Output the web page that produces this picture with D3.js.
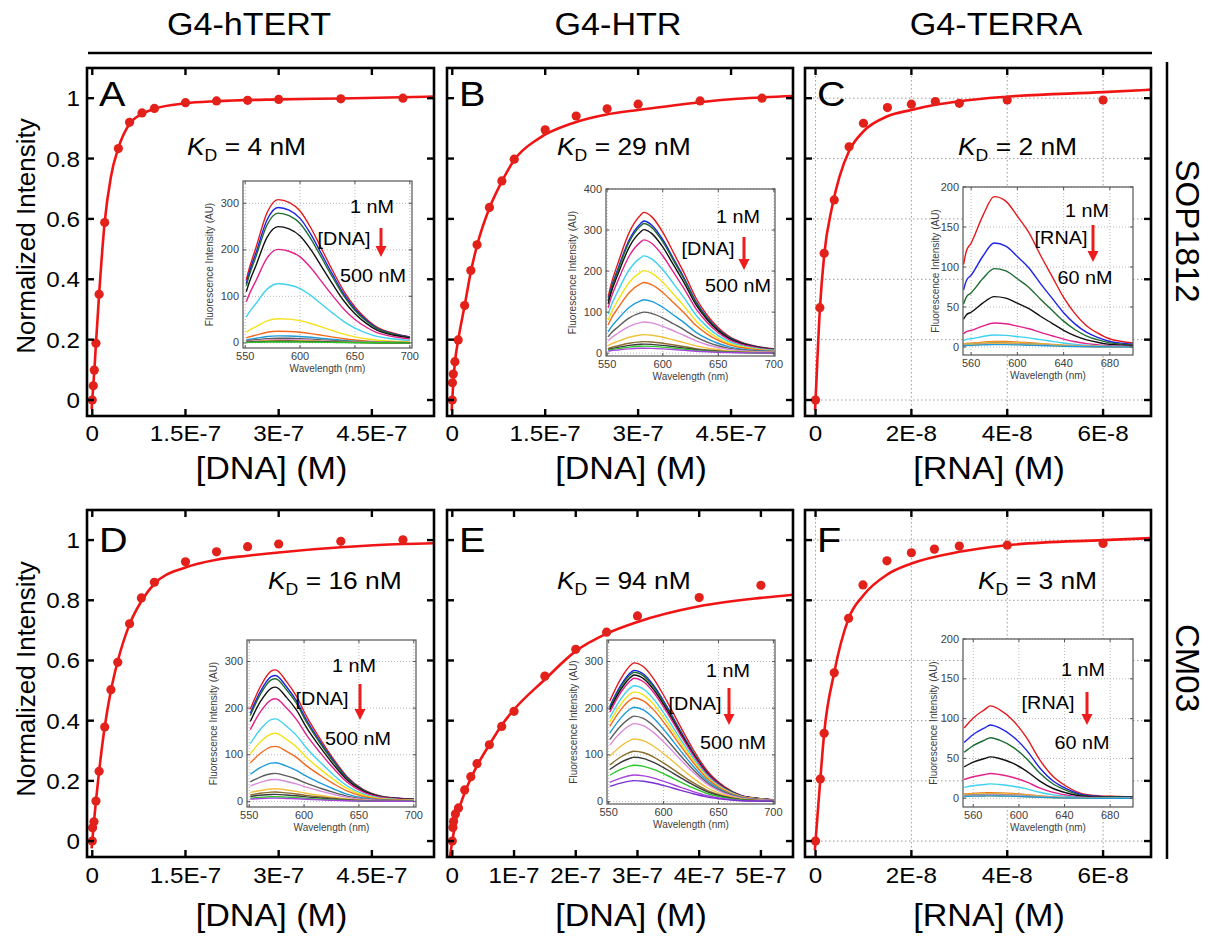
<!DOCTYPE html>
<html>
<head>
<meta charset="utf-8">
<script src="https://cdn.jsdelivr.net/npm/d3@7"></script>
<style>
  body { margin: 0; background: #fff; }
</style>
</head>
<body>
<script>
// ---------------- text content ----------------
const columnTitles = ["G4-hTERT", "G4-HTR", "G4-TERRA"];
const rowTitles = ["SOP1812", "CM03"];
const panelLetters = ["A", "B", "C", "D", "E", "F"];
const kdValues = ["4 nM", "29 nM", "2 nM", "16 nM", "94 nM", "3 nM"];
const xAxisTitles = ["[DNA] (M)", "[DNA] (M)", "[RNA] (M)", "[DNA] (M)", "[DNA] (M)", "[RNA] (M)"];
const yAxisTitle = "Normalized Intensity";
const insetTopText = ["1 nM", "1 nM", "1 nM", "1 nM", "1 nM", "1 nM"];
const insetMidText = ["[DNA]", "[DNA]", "[RNA]", "[DNA]", "[DNA]", "[RNA]"];
const insetBotText = ["500 nM", "500 nM", "60 nM", "500 nM", "500 nM", "60 nM"];
const insetYTitle = "Fluorescence Intensity (AU)";
const insetXTitle = "Wavelength (nm)";

// ---------------- main axes ticks (concentration in nM) ----------------
const yTicks = [0, 0.2, 0.4, 0.6, 0.8, 1];
const yTickLabels = ["0", "0.2", "0.4", "0.6", "0.8", "1"];
const dnaTicks = [0, 150, 300, 450];
const dnaTickLabels = ["0", "1.5E-7", "3E-7", "4.5E-7"];
const dnaTicksE = [0, 100, 200, 300, 400, 500];
const dnaTickLabelsE = ["0", "1E-7", "2E-7", "3E-7", "4E-7", "5E-7"];
const rnaTicks = [0, 20, 40, 60];
const rnaTickLabels = ["0", "2E-8", "4E-8", "6E-8"];

// ---------------- titration points (nM, normalized intensity) ----------------
const concA = [0, 1.6, 3.2, 5.9, 11, 20, 42, 60, 80, 100, 150, 200, 250, 300, 400, 500];
const intA  = [0, 0.047, 0.099, 0.188, 0.35, 0.588, 0.833, 0.92, 0.951, 0.966, 0.985, 0.991, 0.993, 0.996, 0.998, 1.0];
const concB = [0, 0.3, 1.6, 4.3, 9.6, 20, 30, 40, 60, 80, 100, 150, 200, 250, 300, 400, 500];
const intB  = [0, 0.057, 0.086, 0.127, 0.199, 0.313, 0.429, 0.514, 0.638, 0.726, 0.798, 0.895, 0.941, 0.965, 0.98, 0.991, 1.0];
const concC = [0, 0.9, 1.8, 3.9, 7, 10, 15, 20, 25, 30, 40, 60];
const intC  = [0, 0.306, 0.486, 0.663, 0.839, 0.917, 0.969, 0.98, 0.989, 0.983, 0.994, 0.994];
const concD = [0, 0.5, 2.7, 5.9, 11, 20, 30, 41, 60, 79, 100, 150, 200, 250, 300, 400, 500];
const intD  = [0, 0.044, 0.064, 0.133, 0.232, 0.379, 0.503, 0.594, 0.722, 0.808, 0.86, 0.928, 0.961, 0.978, 0.987, 0.996, 1.001];
const concE = [0, 1, 2, 5, 10, 20, 30, 40, 60, 80, 100, 150, 200, 250, 300, 400, 500];
const intE  = [0, 0.045, 0.065, 0.09, 0.11, 0.17, 0.214, 0.257, 0.32, 0.381, 0.431, 0.548, 0.637, 0.694, 0.748, 0.809, 0.85];
const concF = [0, 1.0, 1.8, 3.9, 6.9, 9.9, 14.9, 20, 24.8, 30, 40, 60];
const intF  = [0, 0.206, 0.358, 0.559, 0.74, 0.851, 0.931, 0.958, 0.97, 0.98, 0.983, 0.989];

// ---------------- fitted binding curves (nM, normalized intensity) ----------------
const fitConcA = [-1, 0, 2, 4, 6, 11, 20, 30, 42, 60, 80, 100, 150, 200, 300, 400, 560];
const fitIntA  = [-0.03, 0, 0.06, 0.12, 0.19, 0.35, 0.59, 0.74, 0.835, 0.915, 0.948, 0.965, 0.983, 0.99, 0.996, 0.999, 1.006];
const fitConcB = [-1, 0, 2, 4.3, 9.6, 20, 30, 40, 60, 80, 100, 140, 194, 247, 300, 354, 407, 460, 560];
const fitIntB  = [-0.035, 0, 0.07, 0.125, 0.199, 0.313, 0.425, 0.512, 0.636, 0.724, 0.795, 0.867, 0.917, 0.945, 0.961, 0.975, 0.988, 0.998, 1.008];
const fitConcC = [-0.1, 0, 0.9, 1.8, 3.4, 5, 7, 10, 15, 20, 25, 30, 40, 60, 72];
const fitIntC  = [-0.033, 0, 0.3, 0.48, 0.636, 0.74, 0.825, 0.89, 0.94, 0.961, 0.978, 0.99, 1.005, 1.02, 1.03];
const fitConcD = [-1, 0, 2.7, 5.9, 11, 20, 30, 40, 60, 80, 100, 150, 200, 250, 300, 400, 500, 560];
const fitIntD  = [-0.024, 0, 0.064, 0.133, 0.232, 0.379, 0.5, 0.59, 0.72, 0.8, 0.855, 0.909, 0.935, 0.948, 0.959, 0.976, 0.987, 0.99];
const fitConcE = [-4, 0, 5, 10, 20, 40, 60, 80, 100, 150, 200, 250, 300, 400, 500, 560];
const fitIntE  = [-0.053, 0, 0.06, 0.1, 0.16, 0.25, 0.32, 0.385, 0.437, 0.537, 0.631, 0.689, 0.728, 0.78, 0.808, 0.82];
const fitConcF = [-0.15, 0, 1, 1.8, 3.9, 6.9, 10, 15, 20, 30, 40, 60, 72];
const fitIntF  = [-0.03, 0, 0.206, 0.358, 0.56, 0.74, 0.817, 0.886, 0.922, 0.961, 0.983, 1.0, 1.008];

// ---------------- emission spectra (band profile per panel, peak per titration step) ----------------
const specTicksDNA = [550, 600, 650, 700];
const specTicksRNA = [560, 600, 640, 680];
const specYTicks300 = [0, 100, 200, 300];
const specYTicks400 = [0, 100, 200, 300, 400];
const specYTicks200 = [0, 50, 100, 150, 200];

const wlA = [551, 553, 560, 570, 580, 590, 600, 610, 620, 630, 640, 650, 660, 670, 680, 690, 700];
const shapeA = [0.44, 0.50, 0.67, 0.91, 1.0, 0.98, 0.92, 0.80, 0.65, 0.50, 0.36, 0.25, 0.17, 0.11, 0.078, 0.058, 0.042];
const peaksA = [308, 291, 279, 250, 201, 127, 52, 25, 15, 10, 7, 5, 4, 3, 2];

const wlB = [551, 553, 560, 570, 580, 583, 590, 600, 610, 620, 630, 640, 650, 660, 670, 680, 690, 700];
const shapeB = [0.40, 0.47, 0.645, 0.86, 0.98, 1.0, 0.97, 0.86, 0.71, 0.557, 0.39, 0.27, 0.18, 0.117, 0.08, 0.056, 0.04, 0.03];
const peaksB = [343, 322, 316, 301, 276, 237, 201, 172, 130, 100, 76, 45, 28, 22, 17, 12];

const wlC = [553.5, 556, 560, 570, 580, 590, 600, 610, 620, 630, 640, 650, 660, 670, 680, 690, 700];
const shapeC = [0.55, 0.64, 0.69, 0.87, 1.0, 0.97, 0.87, 0.76, 0.61, 0.47, 0.33, 0.22, 0.14, 0.09, 0.053, 0.037, 0.027];
const peaksC = [188, 130, 98, 63, 30, 15, 7, 6, 5, 4, 4, 3];

const wlD = [551, 560, 570, 574, 584, 593, 602, 615, 627, 639, 654, 670, 685, 700];
const shapeD = [0.70, 0.87, 0.99, 1.0, 0.91, 0.80, 0.65, 0.47, 0.32, 0.19, 0.09, 0.04, 0.025, 0.018];
const peaksD = [282, 270, 263, 245, 220, 177, 146, 118, 83, 60, 47, 27, 20, 15, 10, 7];

const wlE = [551, 561, 571, 573, 582, 591, 603, 615, 627, 639, 655, 670, 685, 700];
const shapeE = [0.725, 0.885, 0.99, 1.0, 0.97, 0.885, 0.725, 0.546, 0.376, 0.23, 0.11, 0.047, 0.025, 0.014];
const peaksE = [297, 281, 277, 271, 264, 248, 235, 222, 202, 183, 167, 134, 108, 95, 78, 57, 45];

const wlF = [552, 560, 570, 575, 583, 595, 607, 618, 630, 642, 656, 671, 685, 700];
const shapeF = [0.76, 0.87, 0.96, 1.0, 0.96, 0.84, 0.65, 0.42, 0.235, 0.127, 0.047, 0.026, 0.02, 0.017];
const peaksF = [116, 92, 76, 52, 31, 18, 7, 6, 5, 4, 3, 3];

const specColorsDNA = ["#e3191c", "#1c22e6", "#1e6b32", "#111111", "#e2208c", "#3fd2ef", "#f2e21a",
  "#f26a1d", "#1d9bd8", "#5c5c5c", "#d98cd9", "#f0c13c", "#8a6c2c", "#3a3a3a", "#2bc52b", "#a643dc", "#7a30d0"];
const specColorsRNA = ["#e3191c", "#1c22e6", "#1e6b32", "#111111", "#e2208c", "#3fd2ef",
  "#f26a1d", "#f2d21a", "#8a8a8a", "#d98cd9", "#f0b43c", "#1d9bd8"];

// ---------------- layout ----------------
const W = 1220, H = 939;
const FONT = "'Liberation Sans', Arial, Helvetica, sans-serif";
const SX = 1.1;                 // horizontal stretch of the typeface
const RED_LINE = "#f01414";
const RED_DOT = "#e3211b";
const colX = [[87, 434], [447, 793], [805, 1151]];
const rowY = [[68, 416], [510, 857]];
const yDomain = [-0.053, 1.1];
const tickLabelBase = [441, 883];
const axisTitleBase = [479, 926];

const panels = [
  { col: 0, row: 0, xDomain: [-8.5, 550], ticks: dnaTicks, tickLabels: dnaTickLabels, grid: false,
    conc: concA, val: intA, fitC: fitConcA, fitV: fitIntA, kd: [187, 155],
    inset: { x: [243, 412], y: [181, 348], xd: [548, 702], yd: [-11, 348], xt: specTicksDNA, yt: specYTicks300,
      wl: wlA, shape: shapeA, peaks: peaksA, colors: specColorsDNA, titleOff: 34,
      top: [372, 206], mid: [344, 238], bot: [373, 275], arrow: [381, 228, 257] } },
  { col: 1, row: 0, xDomain: [-8.5, 550], ticks: dnaTicks, tickLabels: dnaTickLabels, grid: false,
    conc: concB, val: intB, fitC: fitConcB, fitV: fitIntB, kd: [557, 155],
    inset: { x: [606, 775], y: [189, 356], xd: [549, 701], yd: [-7, 400], xt: specTicksDNA, yt: specYTicks400,
      wl: wlB, shape: shapeB, peaks: peaksB, colors: specColorsDNA, titleOff: 34,
      top: [738, 216], mid: [708, 248], bot: [738, 285], arrow: [744, 237, 270] } },
  { col: 2, row: 0, xDomain: [-2.2, 70], ticks: rnaTicks, tickLabels: rnaTickLabels, grid: true,
    conc: concC, val: intC, fitC: fitConcC, fitV: fitIntC, kd: [958, 155],
    inset: { x: [963, 1133], y: [187, 355], xd: [553, 700], yd: [-10, 200], xt: specTicksRNA, yt: specYTicks200,
      wl: wlC, shape: shapeC, peaks: peaksC, colors: specColorsRNA, titleOff: 28,
      top: [1087, 210], mid: [1061, 237], bot: [1085, 277], arrow: [1093, 225, 262] } },
  { col: 0, row: 1, xDomain: [-8.5, 550], ticks: dnaTicks, tickLabels: dnaTickLabels, grid: false,
    conc: concD, val: intD, fitC: fitConcD, fitV: fitIntD, kd: [268, 589],
    inset: { x: [247, 416], y: [640, 807], xd: [548, 702], yd: [-12, 346], xt: specTicksDNA, yt: specYTicks300,
      wl: wlD, shape: shapeD, peaks: peaksD, colors: specColorsDNA, titleOff: 34,
      top: [354, 665], mid: [322, 698], bot: [358, 738], arrow: [360, 684, 720] } },
  { col: 1, row: 1, xDomain: [-8.6, 552], ticks: dnaTicksE, tickLabels: dnaTickLabelsE, grid: false,
    conc: concE, val: intE, fitC: fitConcE, fitV: fitIntE, kd: [557, 589],
    inset: { x: [607, 775], y: [640, 804], xd: [548.5, 701.5], yd: [-5, 346], xt: specTicksDNA, yt: specYTicks300,
      wl: wlE, shape: shapeE, peaks: peaksE, colors: specColorsDNA, titleOff: 34,
      top: [728, 670], mid: [695, 703], bot: [733, 742], arrow: [729, 688, 725] } },
  { col: 2, row: 1, xDomain: [-2.2, 70], ticks: rnaTicks, tickLabels: rnaTickLabels, grid: true,
    conc: concF, val: intF, fitC: fitConcF, fitV: fitIntF, kd: [978, 589],
    inset: { x: [963, 1133], y: [639, 807], xd: [551, 700], yd: [-11, 200], xt: specTicksRNA, yt: specYTicks200,
      wl: wlF, shape: shapeF, peaks: peaksF, colors: specColorsRNA, titleOff: 30,
      top: [1083, 669], mid: [1048, 702], bot: [1082, 742], arrow: [1087, 692, 725] } }
];

const svg = d3.select("body").append("svg")
  .attr("width", W).attr("height", H)
  .style("font-family", FONT);
const defs = svg.append("defs");

// text helper: places a label, optionally rotated, with a horizontal stretch
function label(parent, x, y, s, size, opts = {}) {
  const sx = opts.sx === undefined ? SX : opts.sx;
  const tr = `translate(${x},${y})` + (opts.rotate ? ` rotate(${opts.rotate})` : "") + ` scale(${sx},1)`;
  return parent.append("g").attr("transform", tr)
    .append("text")
    .attr("font-size", size)
    .attr("text-anchor", opts.anchor || "middle")
    .attr("fill", opts.fill || "#000")
    .text(s);
}

// ---------------- headers and row labels ----------------
columnTitles.forEach((t, i) => {
  const cx = [249, 618, 996][i];
  label(svg, cx, 35, t, 31);
});
svg.append("line").attr("x1", 88).attr("x2", 1152).attr("y1", 53).attr("y2", 53)
  .attr("stroke", "#000").attr("stroke-width", 2.5);
svg.append("line").attr("x1", 1167).attr("x2", 1167).attr("y1", 62).attr("y2", 859)
  .attr("stroke", "#000").attr("stroke-width", 2.5);
rowTitles.forEach((t, i) => {
  label(svg, 1176, [231, 668][i], t, 33, { rotate: 90, sx: 1 });
});
[236, 679].forEach(cy => label(svg, 35, cy, yAxisTitle, 26, { rotate: -90, sx: 1 }));

// ---------------- panels ----------------
panels.forEach((p, i) => {
  const [x0, x1] = colX[p.col];
  const [y0, y1] = rowY[p.row];
  const x = d3.scaleLinear().domain(p.xDomain).range([x0, x1]);
  const y = d3.scaleLinear().domain(yDomain).range([y1, y0]);
  const g = svg.append("g");

  const clipId = "clip-main-" + i;
  defs.append("clipPath").attr("id", clipId)
    .append("rect").attr("x", x0).attr("y", y0).attr("width", x1 - x0).attr("height", y1 - y0);

  // dotted grid
  if (p.grid) {
    const gg = g.append("g").attr("stroke", "#9b9b9b").attr("stroke-width", 1).attr("stroke-dasharray", "1.5,2.5");
    p.ticks.forEach(t => gg.append("line").attr("x1", x(t)).attr("x2", x(t)).attr("y1", y0).attr("y2", y1));
    yTicks.forEach(t => gg.append("line").attr("x1", x0).attr("x2", x1).attr("y1", y(t)).attr("y2", y(t)));
  }

  // fitted curve and titration points
  const plot = g.append("g").attr("clip-path", `url(#${clipId})`);
  const fitPts = p.fitC.map((c, k) => [c, p.fitV[k]]);
  plot.append("path")
    .attr("d", d3.line().x(d => x(d[0])).y(d => y(d[1])).curve(d3.curveMonotoneX)(fitPts))
    .attr("fill", "none").attr("stroke", RED_LINE).attr("stroke-width", 2.6);
  plot.selectAll("circle.pt").data(p.conc.map((c, k) => [c, p.val[k]])).join("circle")
    .attr("class", "pt")
    .attr("cx", d => x(d[0])).attr("cy", d => y(d[1])).attr("r", 4.6)
    .attr("fill", RED_DOT);

  // inset spectra
  drawInset(g, p.inset, i);

  // frame and ticks
  g.append("rect").attr("x", x0).attr("y", y0).attr("width", x1 - x0).attr("height", y1 - y0)
    .attr("fill", "none").attr("stroke", "#000").attr("stroke-width", 2.6);
  const tk = g.append("g").attr("stroke", "#000").attr("stroke-width", 2.4);
  p.ticks.forEach(t => {
    const xx = x(t);
    tk.append("line").attr("x1", xx).attr("x2", xx).attr("y1", y1).attr("y2", y1 - 7);
    tk.append("line").attr("x1", xx).attr("x2", xx).attr("y1", y0).attr("y2", y0 + 7);
  });
  yTicks.forEach(t => {
    const yy = y(t);
    tk.append("line").attr("x1", x0).attr("x2", x0 + 7).attr("y1", yy).attr("y2", yy);
    tk.append("line").attr("x1", x1).attr("x2", x1 - 7).attr("y1", yy).attr("y2", yy);
  });

  // tick labels
  p.ticks.forEach((t, k) => label(g, x(t), tickLabelBase[p.row], p.tickLabels[k], 22));
  if (p.col === 0) {
    yTicks.forEach((t, k) => label(g, x0 - 7, y(t) + 8, yTickLabels[k], 22, { anchor: "end" }));
  }
  label(g, (x0 + x1) / 2 + 11, axisTitleBase[p.row], xAxisTitles[i], 31);

  // panel letter
  label(g, x0 + 12, y0 + (p.row === 0 ? 38 : 42), panelLetters[i], 36, { anchor: "start" });

  // dissociation constant
  const kt = label(g, p.kd[0], p.kd[1], "", 24, { anchor: "start" });
  kt.append("tspan").attr("font-style", "italic").text("K");
  kt.append("tspan").attr("font-size", 16).attr("dy", 6).text("D");
  kt.append("tspan").attr("dy", -6).text(" = " + kdValues[i]);
});

function drawInset(parent, s, i) {
  const [ix0, ix1] = s.x, [iy0, iy1] = s.y;
  const x = d3.scaleLinear().domain(s.xd).range([ix0, ix1]);
  const y = d3.scaleLinear().domain(s.yd).range([iy1, iy0]);
  const g = parent.append("g");
  g.append("rect").attr("x", ix0).attr("y", iy0).attr("width", ix1 - ix0).attr("height", iy1 - iy0)
    .attr("fill", "#fff");

  // dotted grid
  const gg = g.append("g").attr("stroke", "#b0b0b0").attr("stroke-width", 0.9).attr("stroke-dasharray", "1,2");
  s.xt.forEach(t => gg.append("line").attr("x1", x(t)).attr("x2", x(t)).attr("y1", iy0).attr("y2", iy1));
  s.yt.forEach(t => gg.append("line").attr("x1", ix0).attr("x2", ix1).attr("y1", y(t)).attr("y2", y(t)));

  const clipId = "clip-inset-" + i;
  defs.append("clipPath").attr("id", clipId)
    .append("rect").attr("x", ix0).attr("y", iy0).attr("width", ix1 - ix0).attr("height", iy1 - iy0);
  const sp = g.append("g").attr("clip-path", `url(#${clipId})`);
  const line = d3.line().x(d => x(d[0])).y(d => y(d[1])).curve(d3.curveMonotoneX);
  s.peaks.forEach((pk, k) => {
    const pts = s.wl.map((w, j) => [w, pk * s.shape[j]]);
    sp.append("path").attr("d", line(pts))
      .attr("fill", "none").attr("stroke", s.colors[k % s.colors.length]).attr("stroke-width", 1.4);
  });

  g.append("rect").attr("x", ix0).attr("y", iy0).attr("width", ix1 - ix0).attr("height", iy1 - iy0)
    .attr("fill", "none").attr("stroke", "#555").attr("stroke-width", 1.2);
  const tk = g.append("g").attr("stroke", "#555").attr("stroke-width", 1);
  s.xt.forEach(t => {
    tk.append("line").attr("x1", x(t)).attr("x2", x(t)).attr("y1", iy1).attr("y2", iy1 - 3);
    tk.append("line").attr("x1", x(t)).attr("x2", x(t)).attr("y1", iy0).attr("y2", iy0 + 3);
    label(g, x(t), iy1 + 12, String(t), 10, { fill: "#404040" });
  });
  s.yt.forEach(t => {
    tk.append("line").attr("x1", ix0).attr("x2", ix0 + 3).attr("y1", y(t)).attr("y2", y(t));
    tk.append("line").attr("x1", ix1).attr("x2", ix1 - 3).attr("y1", y(t)).attr("y2", y(t));
    label(g, ix0 - 4, y(t) + 3.5, String(t), 10, { anchor: "end", fill: "#404040" });
  });
  label(g, (ix0 + ix1) / 2, iy1 + 24, insetXTitle, 10, { fill: "#404040", sx: 1 });
  label(g, ix0 - s.titleOff + 3.5, (iy0 + iy1) / 2, insetYTitle, 10, { rotate: -90, sx: 1, fill: "#404040" });

  // titration annotation
  label(g, s.top[0], s.top[1] + 6.5, insetTopText[i], 18);
  label(g, s.mid[0], s.mid[1] + 6.5, insetMidText[i], 18);
  label(g, s.bot[0], s.bot[1] + 6.5, insetBotText[i], 18);
  const [ax, ay0, ay1] = s.arrow;
  g.append("line").attr("x1", ax).attr("x2", ax).attr("y1", ay0).attr("y2", ay1 - 9)
    .attr("stroke", "#ee1c1c").attr("stroke-width", 3);
  g.append("path").attr("d", `M${ax - 5.5},${ay1 - 11}L${ax + 5.5},${ay1 - 11}L${ax},${ay1}Z`)
    .attr("fill", "#ee1c1c");
}
</script>
</body>
</html>
